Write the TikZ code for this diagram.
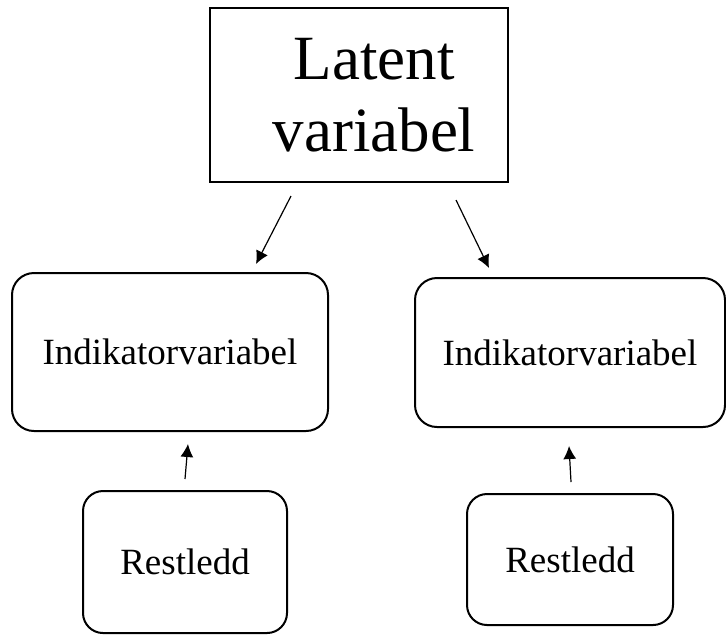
\documentclass[tikz,border=0pt]{standalone}
\usepackage{fontspec}
\setmainfont{Liberation Serif}
\usetikzlibrary{calc,arrows.meta}

\begin{document}
\begin{tikzpicture}[x=0.5pt,y=-0.5pt,
    latentbox/.style={draw, line width=1pt, rectangle, inner sep=0pt, align=center,
        font=\fontsize{31.5}{36}\selectfont},
    indbox/.style={draw, line width=1pt, rectangle, rounded corners=11pt, inner sep=0pt,
        font=\fontsize{18.5}{22}\selectfont},
    arr/.style={-{Latex[length=6.5pt,width=6.5pt]}, line width=0.6pt}]
    \useasboundingbox (0,0) rectangle (726,634);
    % boxes:
    \node[latentbox, minimum width=149pt, minimum height=87pt] (latent) at (359,95)
        {\hspace*{15pt}Latent\\\hspace*{15pt}variabel};
    \node[indbox, minimum width=158pt, minimum height=79pt] (ind1) at (170,352) {Indikatorvariabel};
    \node[indbox, minimum width=155pt, minimum height=74.5pt] (ind2) at (570,352.5) {Indikatorvariabel};
    \node[indbox, rounded corners=10pt, minimum width=102pt, minimum height=71pt] (rest1) at (185,562) {Restledd};
    \node[indbox, rounded corners=10pt, minimum width=103pt, minimum height=65.5pt] (rest2) at (570,559.5) {Restledd};
    % arrows:
    \draw[arr] ($(latent.south)+(-68,13)$) -- ($(ind1.north)+(86,-8)$);
    \draw[arr] ($(latent.south)+(97,17)$) -- ($(ind2.north)+(-81,-9)$);
    \draw[arr] ($(rest1.north)+(0,-11)$) -- ($(ind1.south)+(18,12)$);
    \draw[arr] ($(rest2.north)+(1,-11)$) -- ($(ind2.south)+(-1,18)$);
\end{tikzpicture}
\end{document}
